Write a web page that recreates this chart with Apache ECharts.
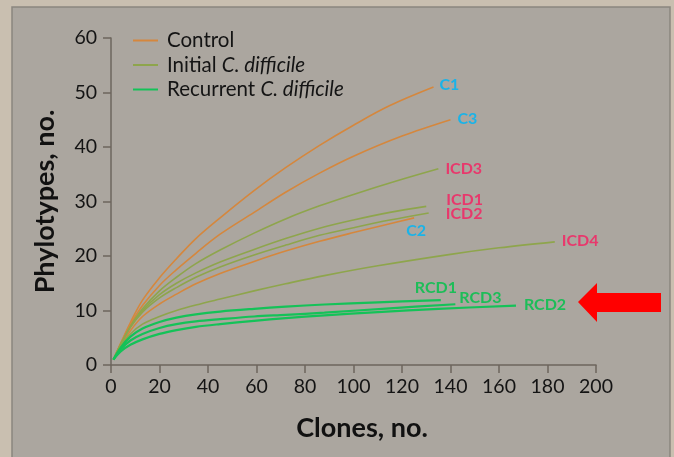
<!DOCTYPE html>
<html>
<head>
<meta charset="utf-8">
<script src="https://cdn.jsdelivr.net/npm/echarts@6/dist/echarts.min.js"></script>
<style>
  html, body { margin: 0; padding: 0; background: #c9bfb0; }
  #chart { width: 674px; height: 457px; }
</style>
</head>
<body>
<div id="chart"></div>
<script>
// Rarefaction curves: phylotypes observed vs. clones sampled, per patient
const c1   = [[1,1],[4,4.0],[8,7.8],[13,11.9],[20,16.0],[27,19.5],[35,23.2],[45,27.0],[59,32.0],[72,36.2],[86,40.3],[100,44.0],[115,47.6],[133,51.0]];
const c2   = [[1,1],[4,3.5],[8,6.3],[13,8.9],[20,11.2],[27,13.0],[35,14.9],[45,16.8],[59,19.0],[72,20.9],[86,22.7],[100,24.3],[112,25.6],[125,27.0]];
const c3   = [[1,1],[4,3.9],[8,7.4],[13,10.9],[20,14.6],[27,17.5],[35,20.5],[45,24.0],[59,28.0],[72,31.7],[86,35.2],[100,38.3],[120,42.0],[140,45.0]];
const icd1 = [[1,1],[4,3.75],[8,7.0],[13,10.0],[20,12.9],[27,15.0],[35,16.9],[45,18.9],[59,21.2],[72,23.2],[86,25.1],[100,26.6],[115,28.0],[130,29.1]];
const icd2 = [[1,1],[4,3.7],[8,6.9],[13,9.7],[20,12.3],[27,14.2],[35,16.1],[45,18.0],[59,20.2],[72,22.0],[86,23.8],[100,25.2],[115,26.6],[131,27.9]];
const icd3 = [[1,1],[4,3.8],[8,7.1],[13,10.3],[20,13.6],[27,16.1],[35,18.6],[45,21.1],[59,24.2],[72,26.8],[86,29.2],[100,31.3],[118,33.8],[135,36.0]];
const icd4 = [[1,1],[4,3.4],[8,5.7],[13,7.5],[20,8.9],[27,10.0],[35,11.0],[45,12.1],[59,13.6],[72,14.9],[88,16.4],[110,18.2],[140,20.3],[160,21.5],[183,22.6]];
const rcd1 = [[1,1],[4,3.2],[8,5.2],[13,6.7],[20,7.9],[27,8.7],[35,9.3],[45,9.8],[59,10.3],[72,10.7],[88,11.1],[110,11.5],[136,11.9]];
const rcd2 = [[1,1],[4,2.5],[8,3.7],[13,4.7],[20,5.7],[27,6.4],[35,7.0],[45,7.5],[59,8.1],[72,8.6],[88,9.1],[110,9.7],[135,10.3],[167,10.9]];
const rcd3 = [[1,1],[4,2.9],[8,4.5],[13,5.7],[20,6.8],[27,7.5],[35,8.0],[45,8.4],[59,8.9],[72,9.2],[88,9.6],[115,10.4],[142,11.15]];

const groups = ['Control', 'Initial C. difficile', 'Recurrent C. difficile'];
const curveNames = ['C1', 'C3', 'C2', 'ICD3', 'ICD1', 'ICD2', 'ICD4', 'RCD1', 'RCD3', 'RCD2'];
const curveGroups = [0, 0, 0, 1, 1, 1, 1, 2, 2, 2];
const curveData = [c1, c3, c2, icd3, icd1, icd2, icd4, rcd1, rcd3, rcd2];

// look of each group: line colour, line width, label colour
const groupLine = ['#d5873d', '#8ea54c', '#14c258'];
const groupWidth = [1.6, 1.6, 2.2];
const groupLabel = ['#1ab3e8', '#e8386c', '#1dbd58'];

// where each end label sits relative to the last point of its curve
const labelOffset = {
  C1: [6, -2], C3: [7, -1], C2: [-8, 13],
  ICD3: [7, 0], ICD1: [20, -7], ICD2: [17, 1], ICD4: [7, -1],
  RCD1: [-26, -12], RCD3: [4, -6], RCD2: [8, -1]
};

const FONT = 'Lato';

const series = curveNames.map((tag, i) => {
  const g = curveGroups[i];
  return {
    type: 'line',
    name: groups[g],
    data: curveData[i],
    showSymbol: false,
    symbol: 'none',
    smooth: 0.35,
    lineStyle: { color: groupLine[g], width: groupWidth[g] },
    itemStyle: { color: groupLine[g] },
    endLabel: {
      show: true,
      formatter: tag,
      distance: 0,
      offset: labelOffset[tag],
      color: groupLabel[g],
      fontFamily: FONT,
      fontWeight: 'bold',
      fontSize: 16
    },
    emphasis: { disabled: true },
    z: 3 + g
  };
});

const chart = echarts.init(document.getElementById('chart'), null, { renderer: 'canvas' });

chart.setOption({
  animation: false,
  backgroundColor: '#c9bfb0',
  textStyle: { fontFamily: FONT },
  graphic: [
    {
      type: 'rect', z: -10, silent: true,
      shape: { x: 12, y: 7, width: 658, height: 470 },
      style: { fill: '#aba69f', stroke: '#8b867f', lineWidth: 1.5 }
    },
    {
      type: 'polygon', z: 100, silent: true,
      shape: { points: [[578, 302], [597, 283], [597, 293], [661, 293], [661, 312], [597, 312], [597, 322]] },
      style: { fill: '#ff0000' }
    }
  ],
  grid: { left: 111, right: 78, top: 38, bottom: 92, containLabel: false },
  legend: {
    data: groups.map((name) => ({ name: name, icon: 'rect' })),
    orient: 'vertical',
    left: 133,
    top: 30,
    padding: 0,
    itemWidth: 25,
    itemHeight: 2,
    itemGap: 3.5,
    selectedMode: false,
    formatter: (name) => {
      const m = name.match(/^(.*?)(C\. difficile)$/);
      return m ? m[1] + '{i|' + m[2] + '}' : name;
    },
    textStyle: {
      fontFamily: FONT, fontSize: 20.5, color: '#141414', lineHeight: 20.5,
      padding: [0, 0, 0, 4],
      rich: { i: { fontFamily: FONT, fontSize: 20.5, fontStyle: 'italic', color: '#141414' } }
    }
  },
  xAxis: {
    type: 'value',
    min: 0, max: 200, interval: 20,
    name: 'Clones, no.',
    nameLocation: 'middle',
    nameGap: 50,
    nameTextStyle: { fontFamily: FONT, fontWeight: 'bold', fontSize: 27, color: '#111', padding: [0, 0, 0, 17] },
    axisLine: { show: true, lineStyle: { color: '#6d665e', width: 1.5 } },
    axisTick: { show: true, inside: false, length: 8, lineStyle: { color: '#6d665e', width: 1.5 } },
    axisLabel: { margin: 12, fontFamily: FONT, fontSize: 19.5, color: '#141414' },
    splitLine: { show: false }
  },
  yAxis: {
    type: 'value',
    min: 0, max: 60, interval: 10,
    name: 'Phylotypes, no.',
    nameLocation: 'middle',
    nameGap: 52,
    nameTextStyle: { fontFamily: FONT, fontWeight: 'bold', fontSize: 27, color: '#111' },
    axisLine: { show: true, lineStyle: { color: '#6d665e', width: 1.5 } },
    axisTick: { show: true, inside: false, length: 8, lineStyle: { color: '#6d665e', width: 1.5 } },
    axisLabel: { margin: 14, fontFamily: FONT, fontSize: 19.5, color: '#141414' },
    splitLine: { show: false }
  },
  series: series
});
</script>
</body>
</html>
